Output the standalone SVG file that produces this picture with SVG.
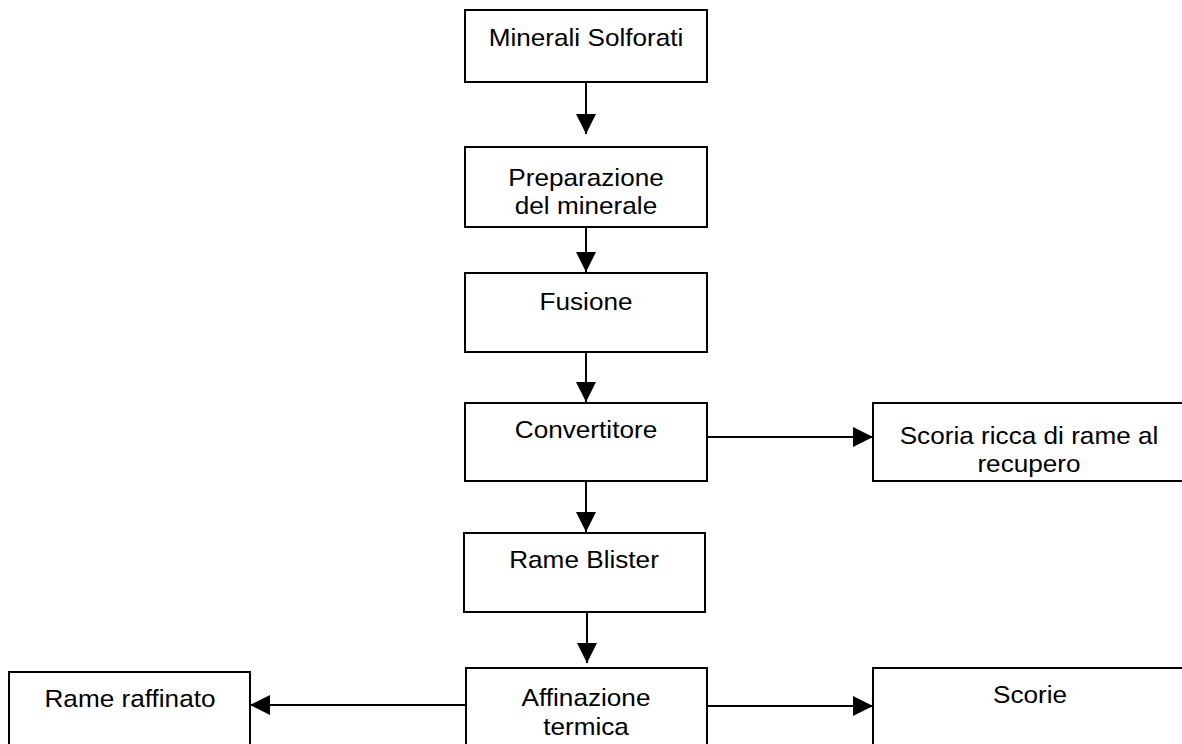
<svg xmlns="http://www.w3.org/2000/svg" width="1182" height="744" viewBox="0 0 1182 744">
  <style>
    .box { fill: #ffffff; stroke: #000000; stroke-width: 2; }
    .edge { fill: none; stroke: #000000; stroke-width: 2; marker-end: url(#head); }
    .lbl { font-family: "Liberation Sans", Arial, sans-serif; font-size: 24px; fill: #000000; text-anchor: middle; }
  </style>
  <defs>
    <marker id="head" markerUnits="userSpaceOnUse" markerWidth="20" markerHeight="20" refX="20" refY="10" orient="auto">
      <path d="M0,0 L20,10 L0,20 z" fill="#000000"/>
    </marker>
  </defs>
  <rect width="1182" height="744" fill="#ffffff"/>

  <!-- process steps -->
  <g id="minerali">
    <rect class="box" x="465" y="10" width="242" height="72"/>
    <text class="lbl" transform="translate(586,46) scale(1.09,1)">Minerali Solforati</text>
  </g>
  <g id="preparazione">
    <rect class="box" x="465" y="147" width="242" height="80"/>
    <text class="lbl" transform="translate(586,186) scale(1.09,1)">Preparazione</text>
    <text class="lbl" transform="translate(586,214) scale(1.09,1)">del minerale</text>
  </g>
  <g id="fusione">
    <rect class="box" x="465" y="273" width="242" height="79"/>
    <text class="lbl" transform="translate(586,310) scale(1.09,1)">Fusione</text>
  </g>
  <g id="convertitore">
    <rect class="box" x="465" y="403" width="242" height="78"/>
    <text class="lbl" transform="translate(586,438) scale(1.09,1)">Convertitore</text>
  </g>
  <g id="scoria">
    <rect class="box" x="873" y="403" width="320" height="78"/>
    <text class="lbl" transform="translate(1029,444) scale(1.09,1)">Scoria ricca di rame al</text>
    <text class="lbl" transform="translate(1029,472) scale(1.09,1)">recupero</text>
  </g>
  <g id="blister">
    <rect class="box" x="464" y="533" width="241" height="79"/>
    <text class="lbl" transform="translate(584,568) scale(1.09,1)">Rame Blister</text>
  </g>
  <g id="affinazione">
    <rect class="box" x="466" y="668" width="241" height="90"/>
    <text class="lbl" transform="translate(586,706) scale(1.09,1)">Affinazione</text>
    <text class="lbl" transform="translate(586,735) scale(1.09,1)">termica</text>
  </g>
  <g id="raffinato">
    <rect class="box" x="9" y="672" width="241" height="90"/>
    <text class="lbl" transform="translate(130,707) scale(1.09,1)">Rame raffinato</text>
  </g>
  <g id="scorie">
    <rect class="box" x="873" y="668" width="320" height="90"/>
    <text class="lbl" transform="translate(1030,703) scale(1.09,1)">Scorie</text>
  </g>

  <!-- connectors -->
  <g id="connectors">
    <line class="edge" x1="586" y1="82" x2="586" y2="134"/>
    <line class="edge" x1="586" y1="227" x2="586" y2="272"/>
    <line class="edge" x1="586" y1="352" x2="586" y2="402"/>
    <line class="edge" x1="586" y1="481" x2="586" y2="532"/>
    <line class="edge" x1="587" y1="612" x2="587" y2="663"/>
    <line class="edge" x1="707" y1="437" x2="873" y2="437"/>
    <line class="edge" x1="707" y1="706" x2="873" y2="706"/>
    <line class="edge" x1="466" y1="705" x2="250" y2="705"/>
  </g>
</svg>
